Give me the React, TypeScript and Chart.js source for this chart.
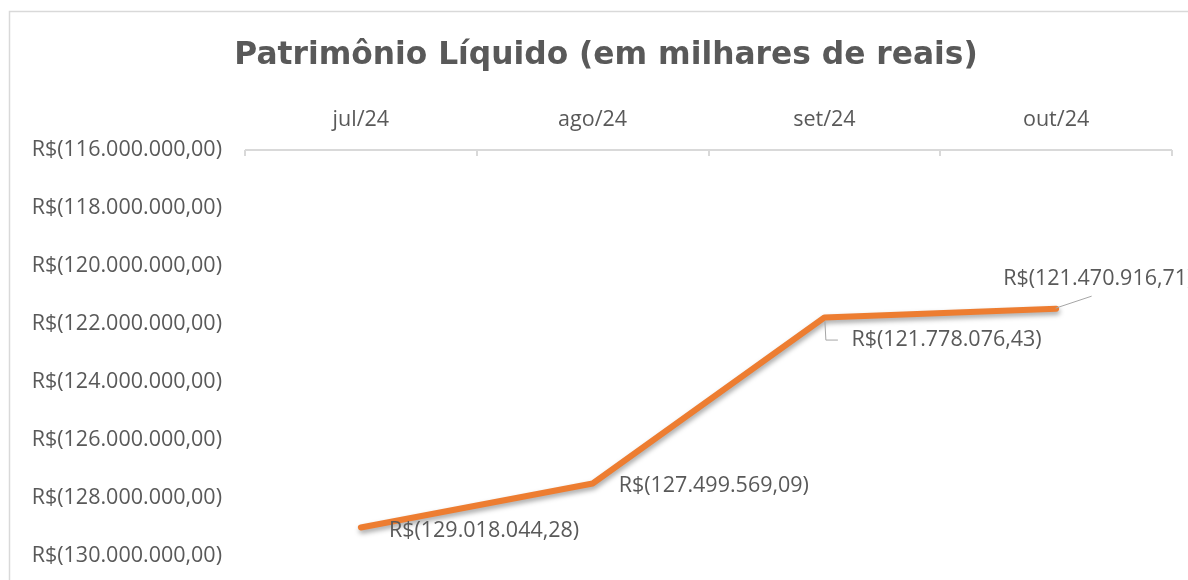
import React, { useEffect, useRef } from "react";
import { Chart, registerables } from "chart.js";

Chart.register(...registerables);

const months = ["jul/24", "ago/24", "set/24", "out/24"];
const patrimonio = [-129018044.28, -127499569.09, -121778076.43, -121470916.71];
const yMin = -130000000;
const yMax = -116000000;
const yStep = 2000000;
const titleText = "Patrimônio Líquido (em milhares de reais)";

const FONT = "'Open Sans', 'Noto Sans', sans-serif";
const TITLE_FONT = "'DejaVu Sans', 'Open Sans', sans-serif";
const GRAY = "#595959";
const LINE_GRAY = "#D9D9D9";
const TICK_SIZE = 21.5;

function fmtBRL(v: number): string {
  const abs = Math.abs(v);
  const fixed = abs.toFixed(2);
  const [intPart, dec] = fixed.split(".");
  const grouped = intPart.replace(/\B(?=(\d{3})+(?!\d))/g, ".");
  const body = grouped + "," + dec;
  return v < 0 ? "R$(" + body + ")" : "R$" + body;
}

// label placement style (offsets relative to each point)
const labelStyle = [
  { dx: 28, dy: 3, leader: null as null | number[][] },
  { dx: 26, dy: 2, leader: null as null | number[][] },
  { dx: 27, dy: 22, leader: [[0, 3], [1, 22], [13, 22]] },
  { dx: -53, dy: -30, leader: [[-1, -1], [35, -13]] },
];

const decorPlugin = {
  id: "decor",
  beforeDraw(chart: any) {
    const ctx = chart.ctx;
    ctx.save();
    ctx.fillStyle = "#ffffff";
    ctx.fillRect(0, 0, chart.width, chart.height);
    // outer chart border
    ctx.strokeStyle = LINE_GRAY;
    ctx.lineWidth = 1.5;
    ctx.beginPath();
    ctx.moveTo(9.5, chart.height);
    ctx.lineTo(9.5, 11.5);
    ctx.lineTo(chart.width, 11.5);
    ctx.stroke();
    // title
    ctx.fillStyle = GRAY;
    ctx.font = "bold 31.3px " + TITLE_FONT;
    ctx.textAlign = "center";
    ctx.textBaseline = "alphabetic";
    ctx.fillText(titleText, 606, 64);
    // category axis line with tick marks
    const area = chart.chartArea;
    ctx.strokeStyle = LINE_GRAY;
    ctx.lineWidth = 2;
    ctx.beginPath();
    ctx.moveTo(area.left, area.top);
    ctx.lineTo(area.right, area.top);
    const n = months.length;
    for (let i = 0; i <= n; i++) {
      const px = Math.round(area.left + ((area.right - area.left) * i) / n);
      ctx.moveTo(px, area.top);
      ctx.lineTo(px, area.top + 6);
    }
    ctx.stroke();
    ctx.restore();
  },
  beforeDatasetsDraw(chart: any) {
    const ctx = chart.ctx;
    ctx.save();
    ctx.shadowColor = "rgba(0,0,0,0.35)";
    ctx.shadowBlur = 5;
    ctx.shadowOffsetX = 1;
    ctx.shadowOffsetY = 3;
  },
  afterDatasetsDraw(chart: any) {
    const ctx = chart.ctx;
    ctx.restore();
    const meta = chart.getDatasetMeta(0);
    ctx.save();
    ctx.font = TICK_SIZE + "px " + FONT;
    ctx.fillStyle = GRAY;
    ctx.textAlign = "left";
    ctx.textBaseline = "middle";
    meta.data.forEach((pt: any, i: number) => {
      const st = labelStyle[i];
      const v = chart.data.datasets[0].data[i] as number;
      if (st.leader) {
        ctx.strokeStyle = "#A6A6A6";
        ctx.lineWidth = 1;
        ctx.beginPath();
        st.leader.forEach((p, j) => {
          const lx = pt.x + p[0] + 0.5;
          const ly = pt.y + p[1] + 0.5;
          if (j === 0) ctx.moveTo(lx, ly);
          else ctx.lineTo(lx, ly);
        });
        ctx.stroke();
      }
      ctx.fillText(fmtBRL(v), pt.x + st.dx, pt.y + st.dy);
    });
    ctx.restore();
  },
};

export default function App() {
  const ref = useRef<HTMLCanvasElement | null>(null);
  useEffect(() => {
    if (!ref.current) return;
    const chart = new Chart(ref.current, {
      type: "line",
      data: {
        labels: months,
        datasets: [
          {
            data: patrimonio,
            borderColor: "#ED7D31",
            backgroundColor: "#ED7D31",
            borderWidth: 6,
            pointRadius: 0,
            pointHoverRadius: 0,
            tension: 0,
            borderJoinStyle: "round",
            borderCapStyle: "round",
            clip: false as any,
          },
        ],
      },
      options: {
        animation: false,
        responsive: false,
        maintainAspectRatio: false,
        events: [],
        layout: { padding: { top: 100, right: 16, bottom: 24, left: 0 } },
        plugins: {
          legend: { display: false },
          tooltip: { enabled: false },
          title: { display: false },
        },
        scales: {
          x: {
            position: "top",
            offset: true,
            grid: { display: false, drawTicks: false },
            border: { display: false },
            ticks: {
              color: GRAY,
              font: { family: FONT, size: TICK_SIZE },
              padding: 17,
              maxRotation: 0,
            },
            afterFit(scale: any) {
              scale.height = 50;
            },
          },
          y: {
            min: yMin,
            max: yMax,
            grid: { display: false, drawTicks: false },
            border: { display: false },
            ticks: {
              stepSize: yStep,
              color: GRAY,
              font: { family: FONT, size: TICK_SIZE },
              padding: 23,
              callback: (v: any) => fmtBRL(Number(v)),
            },
            afterFit(scale: any) {
              scale.width = 245;
              scale.paddingTop = 0;
              scale.paddingBottom = 0;
            },
          },
        },
      },
      plugins: [decorPlugin],
    });
    return () => chart.destroy();
  }, []);
  return (
    <div style={{ position: "fixed", left: 0, top: 0, width: 1188, height: 580, background: "#fff" }}>
      <canvas ref={ref} width={1188} height={580} style={{ width: 1188, height: 580, display: "block" }} />
    </div>
  );
}
